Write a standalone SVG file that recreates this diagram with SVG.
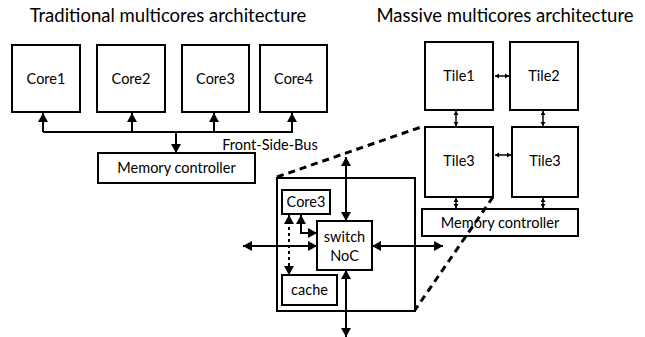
<svg xmlns="http://www.w3.org/2000/svg" width="645" height="337" viewBox="0 0 645 337">
  <style>
    .box { fill: #fff; stroke: #000; stroke-width: 2; }
    .lbl { font-family: Lato, "Liberation Sans", sans-serif; font-size: 14.5px; fill: #000; text-anchor: middle; }
    .title { font-family: Lato, "Liberation Sans", sans-serif; font-size: 18.5px; fill: #000; text-anchor: middle; }
    .wire { fill: none; stroke: #000; stroke-width: 2; }
    .thin { fill: none; stroke: #000; stroke-width: 1.5; }
    .dash { fill: none; stroke: #000; stroke-width: 3; stroke-dasharray: 7 5; }
    .dot { fill: none; stroke: #000; stroke-width: 2; stroke-dasharray: 3 3; }
  </style>
  <defs>
    <marker id="ah" markerUnits="userSpaceOnUse" markerWidth="10" markerHeight="10" refX="9" refY="5" orient="auto-start-reverse">
      <path d="M0,0 L9,5 L0,10 Z" fill="#000"/>
    </marker>
    <marker id="as" markerUnits="userSpaceOnUse" markerWidth="6" markerHeight="6" refX="4" refY="3" orient="auto-start-reverse">
      <path d="M0,0.5 L4,3 L0,5.5 Z" fill="#000"/>
    </marker>
  </defs>

  <!-- headings -->
  <text class="title" x="168" y="22">Traditional multicores architecture</text>
  <text class="title" x="505" y="22">Massive multicores architecture</text>

  <!-- left: bus-based multicore -->
  <g id="core1"><rect class="box" x="12" y="45" width="68" height="67"/><text class="lbl" x="46" y="84">Core1</text></g>
  <g id="core2"><rect class="box" x="97" y="45" width="68" height="67"/><text class="lbl" x="131" y="84">Core2</text></g>
  <g id="core3"><rect class="box" x="182" y="45" width="67" height="67"/><text class="lbl" x="215.5" y="84">Core3</text></g>
  <g id="core4"><rect class="box" x="260" y="45" width="67" height="67"/><text class="lbl" x="293.5" y="84">Core4</text></g>
  <g id="memctl-bus"><rect class="box" x="98" y="153" width="157" height="30"/><text class="lbl" x="176.5" y="173">Memory controller</text></g>
  <text class="lbl" x="270" y="150">Front-Side-Bus</text>

  <!-- right: tiled multicore -->
  <g id="tile1"><rect class="box" x="425" y="42" width="68" height="68"/><text class="lbl" x="459" y="81">Tile1</text></g>
  <g id="tile2"><rect class="box" x="510" y="42" width="68" height="68"/><text class="lbl" x="544" y="81">Tile2</text></g>
  <g id="tile3a"><rect class="box" x="425" y="127" width="68" height="70"/><text class="lbl" x="459" y="166">Tile3</text></g>
  <g id="tile3b"><rect class="box" x="512" y="127" width="66" height="70"/><text class="lbl" x="545" y="166">Tile3</text></g>
  <g id="memctl-noc"><rect class="box" x="422" y="209" width="156" height="27"/><text class="lbl" x="500" y="228">Memory controller</text></g>

  <!-- tile detail -->
  <g id="tile-detail"><rect class="box" x="277" y="178" width="138" height="133"/></g>
  <g id="tile-core3"><rect class="box" x="282" y="190" width="48" height="24"/><text class="lbl" x="306" y="207">Core3</text></g>
  <g id="switch"><rect class="box" x="317" y="221" width="55" height="49"/><text class="lbl" x="344.5" y="242">switch</text><text class="lbl" x="344.5" y="261">NoC</text></g>
  <g id="cache"><rect class="box" x="282" y="275" width="55" height="30"/><text class="lbl" x="309.5" y="295">cache</text></g>

  <g id="connectors">
    <!-- front-side bus -->
    <path class="wire" d="M43,132 H293"/>
    <path class="wire" d="M43,132 V113" marker-end="url(#ah)"/>
    <path class="wire" d="M132,132 V113" marker-end="url(#ah)"/>
    <path class="wire" d="M214,132 V113" marker-end="url(#ah)"/>
    <path class="wire" d="M292,132 V113" marker-end="url(#ah)"/>
    <path class="wire" d="M176,132 V153" marker-end="url(#ah)"/>

    <!-- mesh links -->
    <path class="thin" d="M495,76 H509" marker-start="url(#as)" marker-end="url(#as)"/>
    <path class="thin" d="M495,155 H511" marker-start="url(#as)" marker-end="url(#as)"/>
    <path class="thin" d="M456,111 V126" marker-start="url(#as)" marker-end="url(#as)"/>
    <path class="thin" d="M543,111 V126" marker-start="url(#as)" marker-end="url(#as)"/>
    <path class="thin" d="M456,198 V208" marker-start="url(#as)" marker-end="url(#as)"/>
    <path class="thin" d="M543,198 V208" marker-start="url(#as)" marker-end="url(#as)"/>

    <!-- zoom outline -->
    <path class="dash" d="M277,177 L424,126"/>
    <path class="dash" d="M493,197 L415,310"/>

    <!-- switch ports -->
    <path class="wire" d="M346,157 V221" marker-start="url(#ah)" marker-end="url(#ah)"/>
    <path class="wire" d="M346,270 V337" marker-start="url(#ah)" marker-end="url(#ah)"/>
    <path class="wire" d="M243,246 H317" marker-start="url(#ah)" marker-end="url(#ah)"/>
    <path class="wire" d="M372,246 H443" marker-start="url(#ah)" marker-end="url(#ah)"/>

    <!-- core / cache / switch -->
    <path class="dot" d="M289,215 V275" marker-start="url(#ah)" marker-end="url(#ah)"/>
    <path class="wire" d="M301,215 V233 H317" marker-start="url(#ah)" marker-end="url(#ah)"/>
  </g>
</svg>
